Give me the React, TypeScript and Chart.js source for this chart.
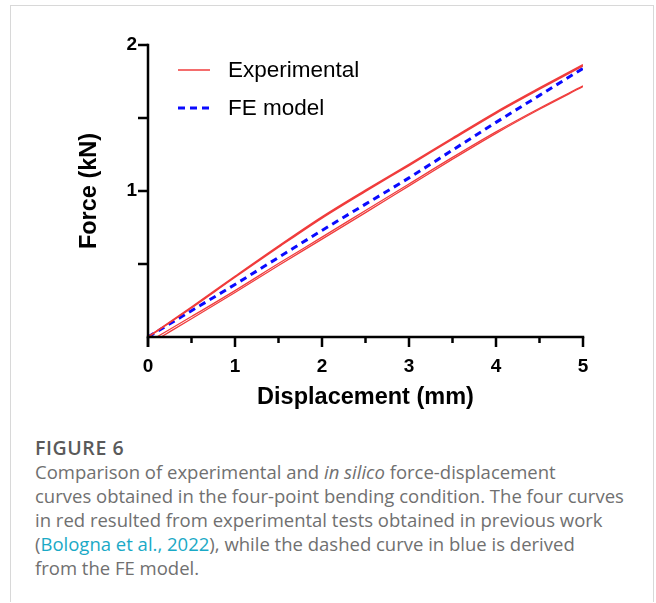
import React, { useEffect, useRef } from "react";
import { Chart, registerables } from "chart.js";

Chart.register(...registerables);

// ---- data ----
const DISP = [0, 0.5, 1, 1.5, 2, 2.5, 3, 3.5, 4, 4.5, 5];
const DISP_LOW_A = [0.15, 0.5, 1, 1.5, 2, 2.5, 3, 3.5, 4, 4.5, 5];
const DISP_LOW_B = [0.1, 0.5, 1, 1.5, 2, 2.5, 3, 3.5, 4, 4.5, 5];
const EXP_1 = [0, 0.205, 0.415, 0.622, 0.822, 1.005, 1.182, 1.362, 1.54, 1.705, 1.865];
const EXP_2 = [0, 0.2, 0.41, 0.615, 0.815, 0.998, 1.175, 1.355, 1.533, 1.698, 1.858];
const EXP_3 = [0, 0.125, 0.305, 0.49, 0.67, 0.852, 1.035, 1.218, 1.395, 1.56, 1.715];
const EXP_4 = [0, 0.14, 0.318, 0.503, 0.684, 0.866, 1.048, 1.23, 1.405, 1.567, 1.72];
const FE = [0, 0.18, 0.36, 0.545, 0.73, 0.91, 1.09, 1.28, 1.47, 1.655, 1.84];

const X_TICKS = [0, 1, 2, 3, 4, 5];
const X_MINOR = [0.5, 1.5, 2.5, 3.5, 4.5];
const Y_LABELS = [1, 2];
const Y_TICKS = [0.5, 1, 1.5, 2];
const LEGEND_LABELS = ["Experimental", "FE model"];

const RED = "#f03c3c";
const BLUE = "#0a0aff";
const FONT = "'Liberation Sans', Arial, sans-serif";

const pts = (xs: number[], ys: number[]) => xs.map((x, i) => ({ x, y: ys[i] }));

const axesPlugin = {
  id: "customAxes",
  afterDraw(chart: any) {
    const ctx = chart.ctx;
    const xs = chart.scales.x;
    const ys = chart.scales.y;
    const x0 = xs.getPixelForValue(0);
    const y0 = ys.getPixelForValue(0);
    ctx.save();
    ctx.strokeStyle = "#000";
    ctx.lineWidth = 2.5;
    ctx.lineCap = "butt";
    ctx.beginPath();
    ctx.moveTo(x0, ys.getPixelForValue(2) - 1.25);
    ctx.lineTo(x0, y0 + 10);
    ctx.stroke();
    ctx.beginPath();
    ctx.moveTo(x0 - 1.25, y0);
    ctx.lineTo(xs.getPixelForValue(5) + 1.25, y0);
    ctx.stroke();
    X_TICKS.forEach((v) => {
      const p = xs.getPixelForValue(v);
      ctx.beginPath();
      ctx.moveTo(p, y0);
      ctx.lineTo(p, y0 + 10);
      ctx.stroke();
    });
    X_MINOR.forEach((v) => {
      const p = xs.getPixelForValue(v);
      ctx.beginPath();
      ctx.moveTo(p, y0);
      ctx.lineTo(p, y0 + 6);
      ctx.stroke();
    });
    Y_TICKS.forEach((v) => {
      const p = ys.getPixelForValue(v);
      ctx.beginPath();
      ctx.moveTo(x0, p);
      ctx.lineTo(x0 - 10, p);
      ctx.stroke();
    });
    // legend
    ctx.font = "22.5px " + FONT;
    ctx.fillStyle = "#000";
    ctx.textBaseline = "middle";
    ctx.textAlign = "left";
    ctx.strokeStyle = RED;
    ctx.lineWidth = 1.5;
    ctx.beginPath();
    ctx.moveTo(178, 70);
    ctx.lineTo(210, 70);
    ctx.stroke();
    ctx.fillText(LEGEND_LABELS[0], 228, 71);
    ctx.strokeStyle = BLUE;
    ctx.lineWidth = 3;
    ctx.setLineDash([7, 5]);
    ctx.beginPath();
    ctx.moveTo(178, 108);
    ctx.lineTo(212, 108);
    ctx.stroke();
    ctx.setLineDash([]);
    ctx.fillText(LEGEND_LABELS[1], 228, 109);
    ctx.restore();
  },
};

function FigureChart() {
  const ref = useRef<HTMLCanvasElement | null>(null);
  useEffect(() => {
    if (!ref.current) return;
    const redDs = (data: any, w: number) => ({
      data,
      borderColor: RED,
      borderWidth: w,
      pointRadius: 0,
      fill: false,
      cubicInterpolationMode: "monotone",
    });
    const chart = new Chart(ref.current, {
      type: "line",
      data: {
        datasets: [
          { label: LEGEND_LABELS[0], ...redDs(pts(DISP, EXP_1), 1.6) },
          { label: LEGEND_LABELS[0], ...redDs(pts(DISP, EXP_2), 1.6) },
          { label: LEGEND_LABELS[0], ...redDs(pts(DISP_LOW_A, EXP_3), 1.3) },
          { label: LEGEND_LABELS[0], ...redDs(pts(DISP_LOW_B, EXP_4), 1.3) },
          {
            label: LEGEND_LABELS[1],
            data: pts(DISP, FE),
            borderColor: BLUE,
            borderWidth: 3,
            borderDash: [7, 5],
            pointRadius: 0,
            fill: false,
            cubicInterpolationMode: "monotone",
          },
        ],
      },
      options: {
        animation: false,
        responsive: false,
        maintainAspectRatio: false,
        layout: { padding: { left: 75, top: 45, right: 73, bottom: 0 } },
        plugins: { legend: { display: false }, tooltip: { enabled: false } },
        scales: {
          x: {
            type: "linear",
            min: 0,
            max: 5,
            afterBuildTicks: (s: any) => {
              s.ticks = X_TICKS.map((v) => ({ value: v }));
            },
            afterFit: (s: any) => {
              s.height = 83;
            },
            grid: { display: false, drawTicks: true, tickLength: 10 },
            border: { display: false },
            ticks: {
              color: "#000",
              padding: 8,
              maxRotation: 0,
              font: { family: FONT, size: 19, weight: "bold" },
            },
            title: {
              display: true,
              text: "Displacement (mm)",
              color: "#000",
              padding: { top: 0, bottom: 8 },
              font: { family: FONT, size: 23.5, weight: "bold" },
            },
          },
          y: {
            type: "linear",
            min: 0,
            max: 2,
            afterBuildTicks: (s: any) => {
              s.ticks = Y_LABELS.map((v) => ({ value: v }));
            },
            afterFit: (s: any) => {
              s.width = 73;
            },
            grid: { display: false, drawTicks: true, tickLength: 10 },
            border: { display: false },
            ticks: {
              color: "#000",
              padding: 1,
              font: { family: FONT, size: 19, weight: "bold" },
            },
            title: {
              display: true,
              text: "Force (kN)",
              color: "#000",
              padding: { top: 0, bottom: 0 },
              font: { family: FONT, size: 23.5, weight: "bold" },
            },
          },
        },
      },
      plugins: [axesPlugin],
    } as any);
    return () => chart.destroy();
  }, []);
  return (
    <canvas
      ref={ref}
      width={656}
      height={420}
      style={{ position: "absolute", left: 0, top: 0, width: 656, height: 420 }}
    />
  );
}

export default function App() {
  const capStyle: React.CSSProperties = {
    position: "absolute",
    left: 35,
    top: 436,
    fontFamily: "'Open Sans', 'Noto Sans', sans-serif",
    fontSize: 18.5,
    lineHeight: "24px",
    color: "#707070",
    whiteSpace: "nowrap",
  };
  return (
    <div>
      <div
        style={{
          position: "absolute",
          left: 10,
          top: 5,
          width: 642,
          height: 596,
          border: "1px solid #d8d8d8",
          borderBottom: "none",
          boxSizing: "content-box",
        }}
      />
      <FigureChart />
      <div style={capStyle}>
        <div style={{ fontWeight: 600, color: "#5a5a5a", fontSize: 19.5, letterSpacing: 0.6 }}>FIGURE 6</div>
        <div>
          Comparison of experimental and <i>in silico</i> force-displacement
          <br />
          curves obtained in the four-point bending condition. The four curves
          <br />
          in red resulted from experimental tests obtained in previous work
          <br />(<span style={{ color: "#1aa9c6" }}>Bologna et al., 2022</span>), while the dashed curve in blue is derived
          <br />
          from the FE model.
        </div>
      </div>
    </div>
  );
}
